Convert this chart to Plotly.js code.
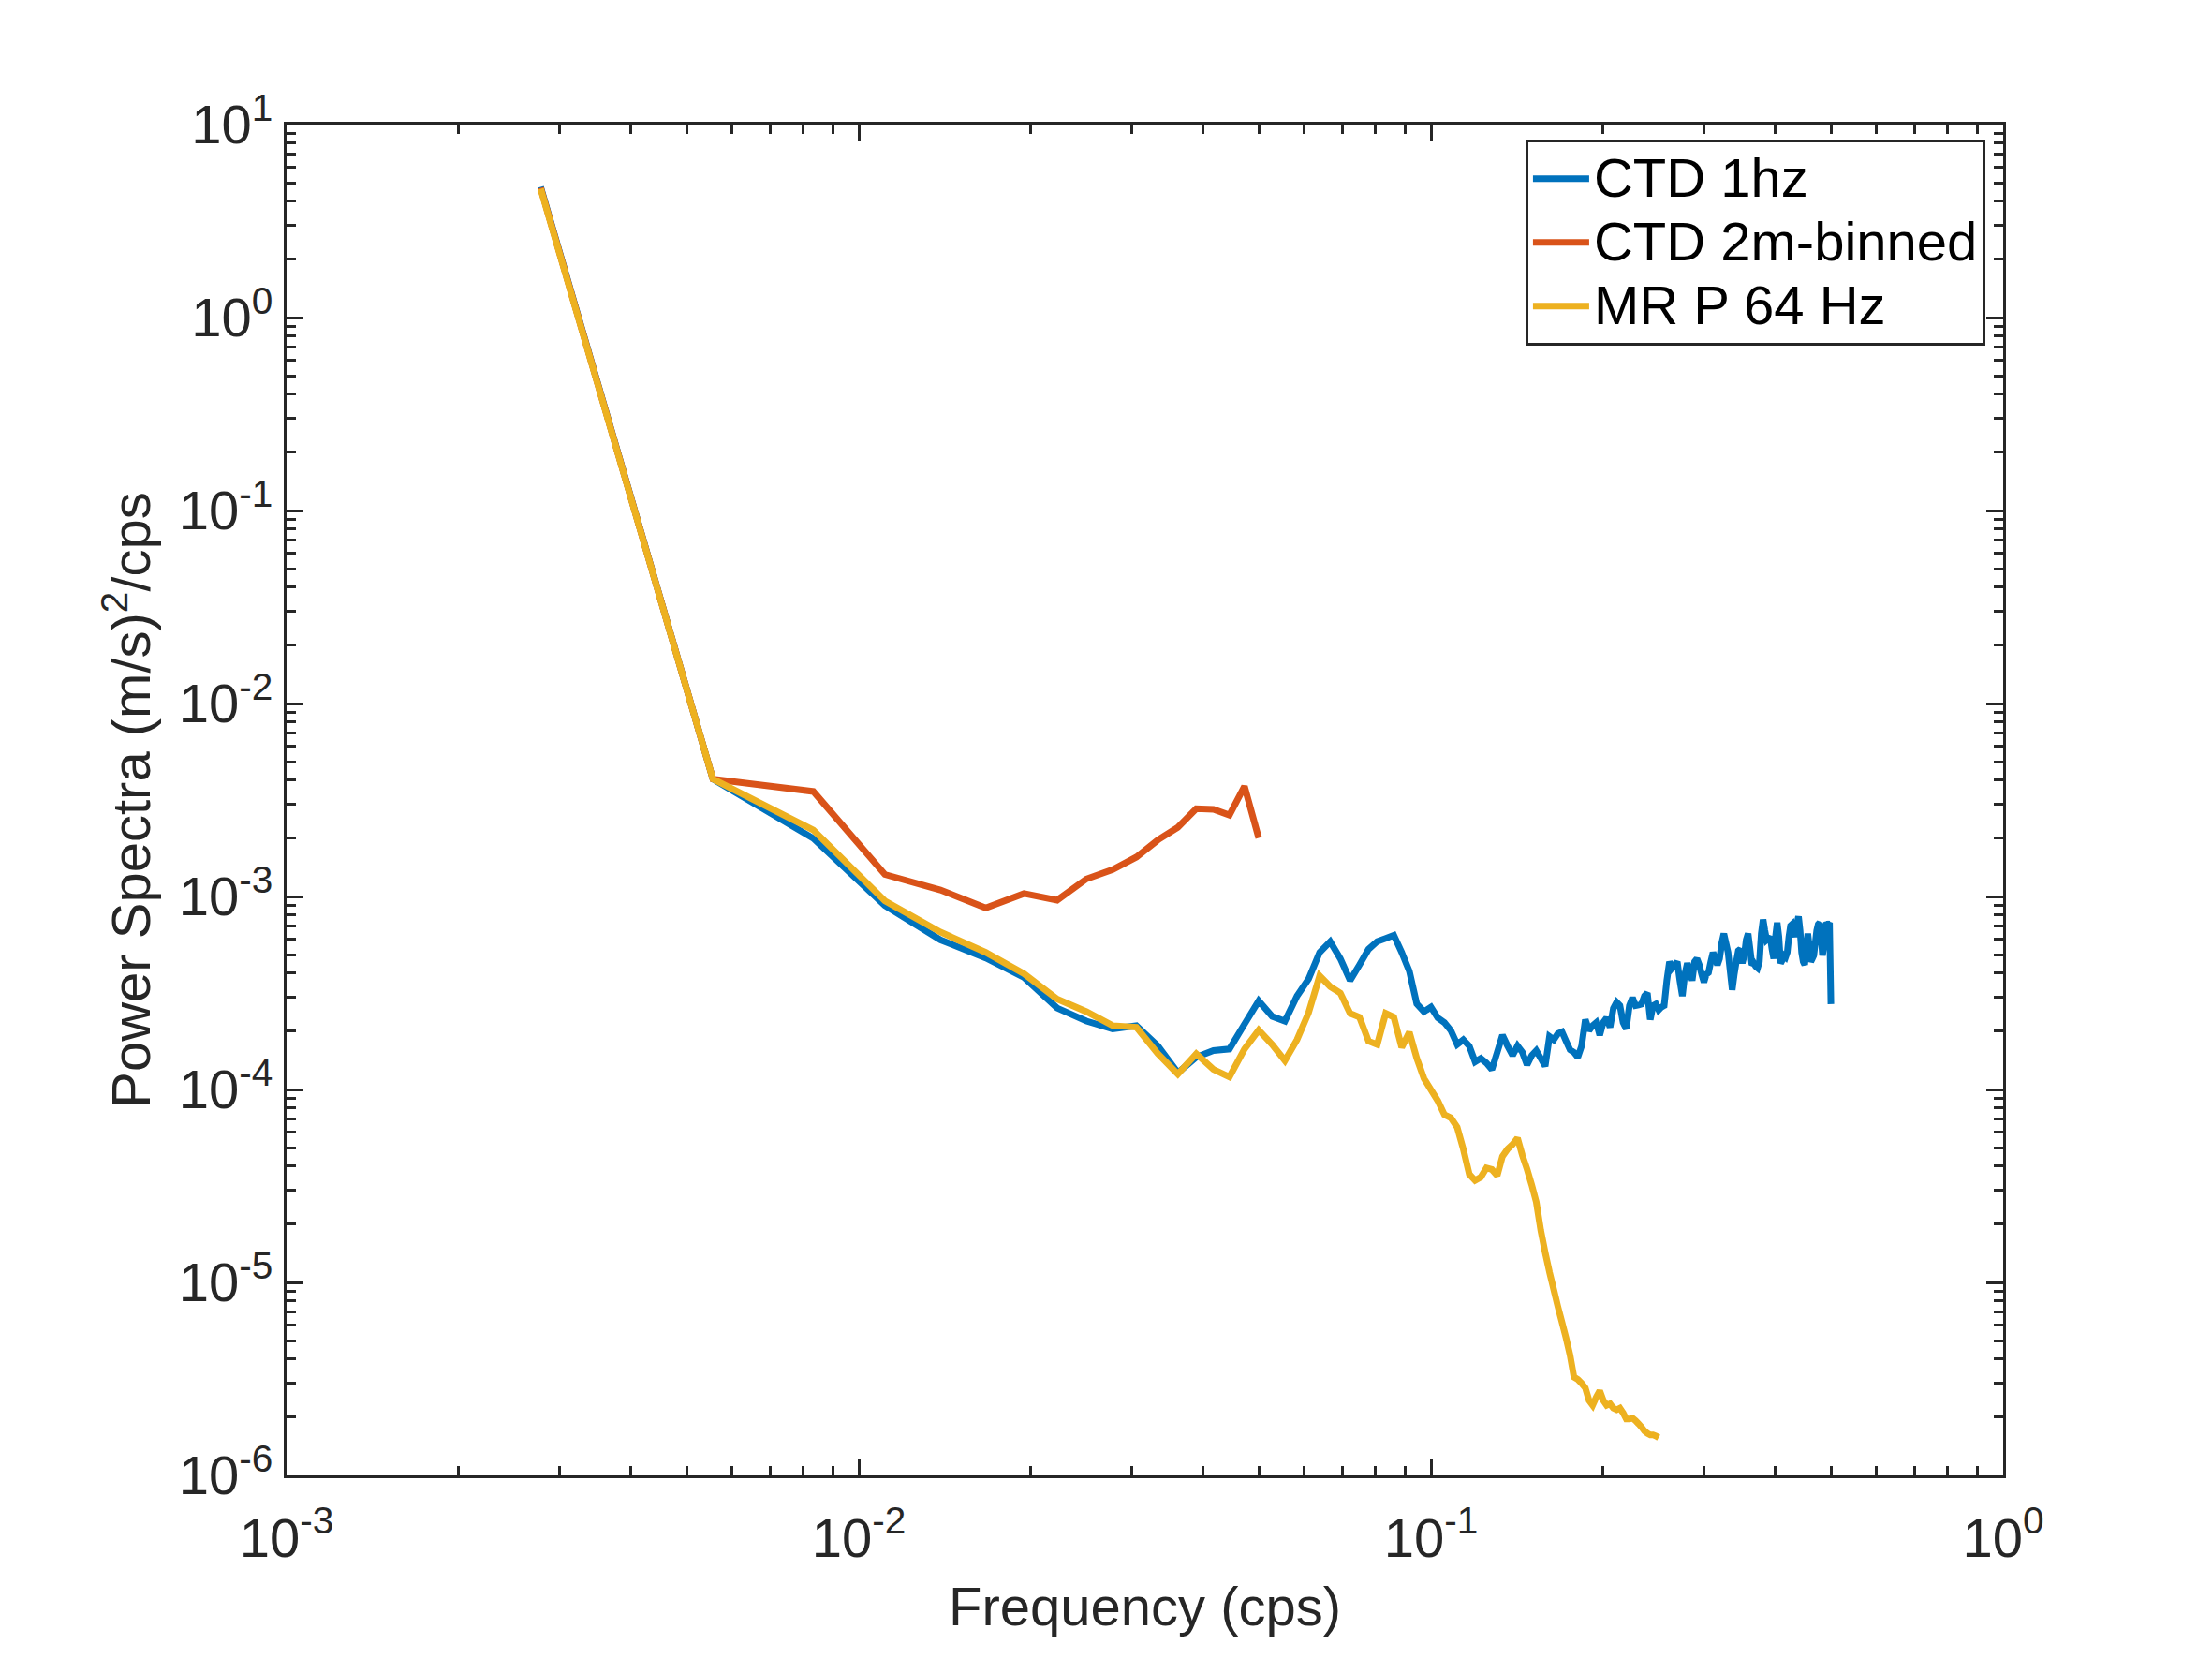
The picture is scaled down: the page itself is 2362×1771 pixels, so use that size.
<!DOCTYPE html>
<html>
<head>
<meta charset="utf-8">
<script src="https://cdn.plot.ly/plotly-3.0.1.min.js"></script>
<style>
  html, body { margin: 0; padding: 0; background: #ffffff; }
  #plot { width: 2362px; height: 1771px; }
</style>
</head>
<body>
<div id="plot"></div>
<script>
// DATA =========================================================
// frequency grid of the spectra (cps)
var freq = [
  0.00278, 0.00556, 0.00833, 0.01111, 0.01389, 0.01667, 0.01944, 0.02222, 0.025, 0.02778,
  0.03056, 0.03333, 0.03611, 0.03889, 0.04167, 0.04444, 0.04722, 0.05, 0.05278, 0.05556,
  0.05833, 0.06111, 0.06389, 0.06667, 0.06944, 0.07222, 0.075, 0.07778, 0.08056, 0.08333,
  0.08611, 0.08889, 0.09167, 0.09444, 0.09722, 0.1, 0.10278, 0.10556, 0.10833, 0.11111,
  0.11389, 0.11667, 0.11944, 0.12222, 0.125, 0.12778, 0.13056, 0.13333, 0.13611, 0.13889,
  0.14167, 0.14444, 0.14722, 0.15, 0.15278, 0.15556, 0.15833, 0.16111, 0.16389, 0.16667,
  0.16944, 0.17222, 0.175, 0.17778, 0.18056, 0.18333, 0.18611, 0.18889, 0.19167, 0.19444,
  0.19722, 0.2, 0.20278, 0.20556, 0.20833, 0.21111, 0.21389, 0.21667, 0.21944, 0.22222,
  0.225, 0.22778, 0.23056, 0.23333, 0.23611, 0.23889, 0.24167, 0.24444, 0.24722, 0.25,
  0.25278, 0.25556, 0.25833, 0.26111, 0.26389, 0.26667, 0.26944, 0.27222, 0.275, 0.27778,
  0.28056, 0.28333, 0.28611, 0.28889, 0.29167, 0.29444, 0.29722, 0.3, 0.30278, 0.30556,
  0.30833, 0.31111, 0.31389, 0.31667, 0.31944, 0.32222, 0.325, 0.32778, 0.33056, 0.33333,
  0.33611, 0.33889, 0.34167, 0.34444, 0.34722, 0.35, 0.35278, 0.35556, 0.35833, 0.36111,
  0.36389, 0.36667, 0.36944, 0.37222, 0.375, 0.37778, 0.38056, 0.38333, 0.38611, 0.38889,
  0.39167, 0.39444, 0.39722, 0.4, 0.40278, 0.40556, 0.40833, 0.41111, 0.41389, 0.41667,
  0.41944, 0.42222, 0.425, 0.42778, 0.43056, 0.43333, 0.43611, 0.43889, 0.44167, 0.44444,
  0.44722, 0.45, 0.45278, 0.45556, 0.45833, 0.46111, 0.46389, 0.46667, 0.46944, 0.47222,
  0.475, 0.47778, 0.48056, 0.48333, 0.48611, 0.48889, 0.49167, 0.49444, 0.49722, 0.5
];

// CTD 1hz, all 180 frequencies
var ctd1hz = [
  4.75, 0.00406, 0.0020, 0.000897, 0.000596, 0.00048, 0.000381, 0.000264, 0.000226, 0.000206,
  0.000214, 0.000168, 0.000122, 0.000147, 0.000159, 0.000162, 0.000218, 0.000288, 0.000239, 0.000226,
  0.000305, 0.000374, 0.000513, 0.000584, 0.000476, 0.000367, 0.000442, 0.000533, 0.000585, 0.000607,
  0.00063, 0.000513, 0.00041, 0.000278, 0.000253, 0.000267, 0.000235, 0.000222, 0.000202, 0.000171,
  0.000181, 0.000168, 0.000139, 0.000145, 0.000137, 0.000127, 0.000156, 0.000191, 0.000168, 0.00015,
  0.000168, 0.000156, 0.000134, 0.00015, 0.000159, 0.000145, 0.000132, 0.000188, 0.000181, 0.000195,
  0.000199, 0.000178, 0.0001605, 0.0001557, 0.000147, 0.000168, 0.00023, 0.000202, 0.000214, 0.000222,
  0.000191, 0.000222, 0.000235, 0.00021, 0.000263, 0.000283, 0.000272, 0.000222, 0.000206, 0.000272,
  0.000299, 0.000272, 0.000274, 0.000277, 0.000305, 0.000316, 0.00023, 0.000272, 0.000277, 0.000258,
  0.000267, 0.000272, 0.000367, 0.000459, 0.000426, 0.000442, 0.000459, 0.000367, 0.000305, 0.000395,
  0.000451, 0.00041, 0.000367, 0.000459, 0.000476, 0.000442, 0.000395, 0.00036, 0.000395, 0.000403,
  0.000459, 0.000513, 0.000476, 0.000442, 0.000476, 0.000574, 0.000642, 0.000574, 0.000513, 0.00041,
  0.000328, 0.000395, 0.000459, 0.000523, 0.000533, 0.000451, 0.000494, 0.000596, 0.000642, 0.000533,
  0.000442, 0.000451, 0.000434, 0.000426, 0.000459, 0.000642, 0.000759, 0.000666, 0.000596, 0.000607,
  0.000618, 0.000533, 0.000476, 0.000618, 0.000731, 0.000618, 0.000451, 0.000468, 0.000494, 0.000485,
  0.000513, 0.000618, 0.000705, 0.000718, 0.000666, 0.000618, 0.000718, 0.000788, 0.000666, 0.000513,
  0.000459, 0.000442, 0.000553, 0.000642, 0.000553, 0.000459, 0.000476, 0.000494, 0.000574, 0.000666,
  0.000718, 0.000731, 0.000618, 0.000494, 0.000553, 0.000692, 0.000731, 0.000718, 0.000731, 0.000277
];

// CTD 2m-binned, first 18 frequencies
var ctdBinned = [
  4.7, 0.00406, 0.0035, 0.0013, 0.00108, 0.000871, 0.001035, 0.000957, 0.001233, 0.001378,
  0.0016, 0.001963, 0.00228, 0.00285, 0.00283, 0.00264, 0.00372, 0.00201
];

// MR P 64 Hz, first 90 frequencies
var mrP64 = [
  4.65, 0.00406, 0.00221, 0.000949, 0.000654, 0.000513, 0.000398, 0.000294, 0.000253, 0.000214,
  0.00021, 0.000153, 0.00012, 0.000153, 0.000127, 0.000116, 0.000162, 0.000203, 0.000171, 0.000141,
  0.000181, 0.00025, 0.000388, 0.000341, 0.000316, 0.000248, 0.000237, 0.000178, 0.000171, 0.000248,
  0.000237, 0.000165, 0.000198, 0.000145, 0.000114, 0.0000996, 0.0000874, 0.000074, 0.0000713, 0.0000637,
  0.0000491, 0.0000364, 0.0000338, 0.0000351, 0.0000392, 0.0000385, 0.0000358, 0.000045, 0.0000491, 0.0000519,
  0.000056, 0.0000456, 0.0000386, 0.000032, 0.0000261, 0.0000186, 0.0000143, 0.0000113, 0.00000918, 0.00000748,
  0.00000621, 0.00000515, 0.0000042, 0.00000323, 0.00000314, 0.000003, 0.00000284, 0.00000245, 0.00000231, 0.00000254,
  0.00000274, 0.00000245, 0.00000231, 0.00000235, 0.00000223, 0.00000219, 0.00000223, 0.00000211, 0.00000196, 0.00000196,
  0.00000198, 0.00000192, 0.00000185, 0.00000178, 0.0000017, 0.00000165, 0.00000162, 0.00000162, 0.0000016, 0.00000157
];

var seriesNames = ['CTD 1hz', 'CTD 2m-binned', 'MR P 64 Hz'];
var seriesColors = ['#0072BD', '#D95319', '#EDB120'];

// decade exponents for tick labels
var xExponents = [-3, -2, -1, 0];
var yExponents = [-6, -5, -4, -3, -2, -1, 0, 1];


// HELPERS ======================================================
var inkColor = '#262626';
var fontFamily = '"Liberation Sans", Arial, Helvetica, sans-serif';

function decadeVals(exps) {
    return exps.map(function (e) { return Math.pow(10, e); });
}

function decadeText(exps) {
    return exps.map(function (e) { return '10<sup>' + e + '</sup>'; });
}

function minorVals(exps) {
    var out = [];
    for (var i = 0; i < exps.length - 1; i++) {
        for (var m = 2; m <= 9; m++) out.push(m * Math.pow(10, exps[i]));
    }
    return out;
}

function makeAxis(exps, titleText, standoff, labelGap) {
    return {
        type: 'log',
        range: [exps[0], exps[exps.length - 1]],
        tickmode: 'array',
        tickvals: decadeVals(exps),
        ticktext: decadeText(exps),
        ticks: 'inside',
        ticklen: 18,
        tickwidth: 3,
        tickcolor: inkColor,
        ticklabelstandoff: labelGap,
        minor: {
            tickmode: 'array',
            tickvals: minorVals(exps),
            ticks: 'inside',
            ticklen: 10,
            tickwidth: 3,
            tickcolor: inkColor,
            showgrid: false
        },
        showline: true,
        linewidth: 3,
        linecolor: inkColor,
        mirror: 'allticks',
        showgrid: false,
        zeroline: false,
        tickfont: { family: fontFamily, size: 58, color: inkColor },
        title: {
            text: titleText,
            font: { family: fontFamily, size: 58, color: inkColor },
            standoff: standoff
        },
        automargin: false
    };
}

// legend rows are spaced from the legend font size, the label itself is drawn a bit larger
function legendLabel(name) {
    return '<span style="font-size:58px">' + name + '</span>';
}


// PLOT =========================================================
var data = [
    { x: freq.slice(0, ctd1hz.length), y: ctd1hz },
    { x: freq.slice(0, ctdBinned.length), y: ctdBinned },
    { x: freq.slice(0, mrP64.length), y: mrP64 }
].map(function (d, i) {
    d.type = 'scatter';
    d.mode = 'lines';
    d.name = legendLabel(seriesNames[i]);
    d.line = { color: seriesColors[i], width: 7, simplify: false };
    return d;
});

var layout = {
    width: 2362,
    height: 1771,
    margin: { l: 306, r: 223, t: 133, b: 196 },
    paper_bgcolor: '#ffffff',
    plot_bgcolor: '#ffffff',
    font: { family: fontFamily, color: inkColor },
    xaxis: makeAxis(xExponents, 'Frequency (cps)', 22, 14),
    yaxis: makeAxis(yExponents, 'Power Spectra (m/s)<sup>2</sup>/cps', 12, 0),
    showlegend: true,
    legend: {
        x: 0.9896,
        xanchor: 'right',
        y: 0.989,
        yanchor: 'top',
        bgcolor: '#ffffff',
        bordercolor: inkColor,
        borderwidth: 3,
        itemwidth: 60,
        tracegroupgap: 0,
        font: { family: fontFamily, size: 50, color: '#000000' }
    }
};

Plotly.newPlot('plot', data, layout, { displayModeBar: false, staticPlot: true });
</script>
</body>
</html>
